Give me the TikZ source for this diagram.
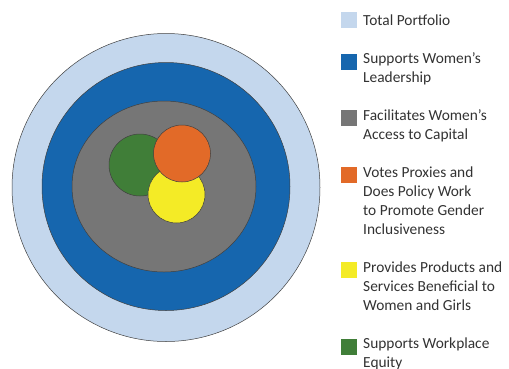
\documentclass[tikz,border=0pt]{standalone}
\usepackage{fontspec}
\setmainfont{Carlito}
\usetikzlibrary{shapes.geometric}
\definecolor{lblue}{RGB}{196,215,237}
\definecolor{dblue}{RGB}{22,102,174}
\definecolor{mgray}{RGB}{118,118,118}
\definecolor{orng}{RGB}{226,106,40}
\definecolor{yllw}{RGB}{244,235,38}
\definecolor{grn}{RGB}{64,126,56}
\definecolor{txt}{RGB}{50,50,50}
\begin{document}
\begin{tikzpicture}[x=1pt,y=-1pt,
  ring/.style={circle, draw=black!75, line width=0.5pt, inner sep=0pt},
  swatch/.style={rectangle, inner sep=0pt, minimum size=15.5pt, anchor=north west},
  legtext/.style={anchor=base west, inner sep=0pt, text=txt, font=\fontsize{15.4}{19}\selectfont}]
\useasboundingbox (0,0) rectangle (509,368);
\node[ring, fill=lblue, minimum size=308pt] (total) at (166,187.5) {};
\node[ring, fill=dblue, minimum size=248pt] (lead) at (166,186.5) {};
\node[ellipse, draw=black!75, line width=0.5pt, inner sep=0pt, fill=mgray, minimum width=184pt, minimum height=171pt] (cap) at (164,186.5) {};
\node[ring, fill=grn, minimum size=62pt] (equity) at (140,165) {};
\node[ring, fill=yllw, minimum size=57pt] (prod) at (176.5,194.5) {};
\node[ring, fill=orng, minimum size=57pt] (vote) at (182,153.5) {};
% legend
\node[swatch, fill=lblue] (s1) at (341,12) {};
\node[legtext] (t1) at (363,25) {Total Portfolio};
\node[swatch, fill=dblue] (s2) at (341,54) {};
\node[legtext] (t2) at (363,63) {\begin{tabular}[t]{@{}l@{}}Supports Women’s\\Leadership\end{tabular}};
\node[swatch, fill=mgray] (s3) at (341,110) {};
\node[legtext] (t3) at (363,120) {\begin{tabular}[t]{@{}l@{}}Facilitates Women’s\\Access to Capital\end{tabular}};
\node[swatch, fill=orng] (s4) at (341,167) {};
\node[legtext] (t4) at (363,177) {\begin{tabular}[t]{@{}l@{}}Votes Proxies and\\Does Policy Work\\to Promote Gender\\Inclusiveness\end{tabular}};
\node[swatch, fill=yllw] (s5) at (341,262) {};
\node[legtext] (t5) at (363,272) {\begin{tabular}[t]{@{}l@{}}Provides Products and\\Services Beneficial to\\Women and Girls\end{tabular}};
\node[swatch, fill=grn] (s6) at (341,339) {};
\node[legtext] (t6) at (363,348) {\begin{tabular}[t]{@{}l@{}}Supports Workplace\\Equity\end{tabular}};
\end{tikzpicture}
\end{document}
